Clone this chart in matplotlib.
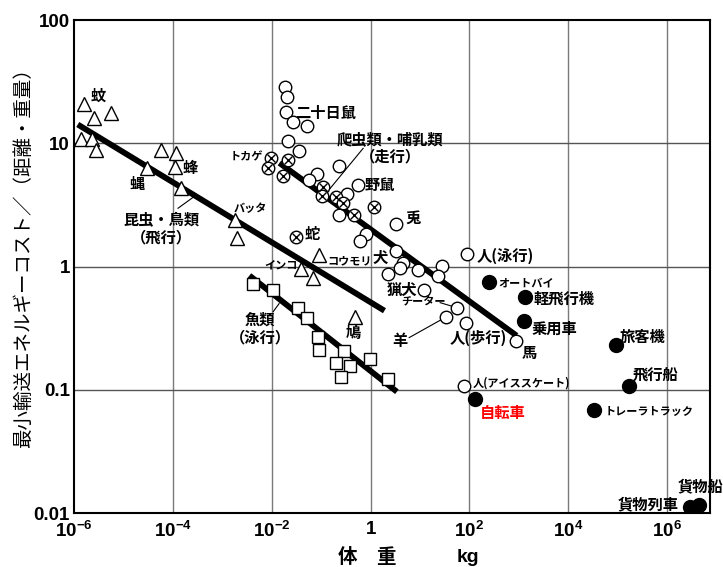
import numpy as np
import matplotlib
matplotlib.use("Agg")
import matplotlib.pyplot as plt

plt.rcParams['font.family'] = ['Noto Sans CJK JP', 'DejaVu Sans']
plt.rcParams['mathtext.fontset'] = 'custom'
plt.rcParams['mathtext.rm'] = 'Liberation Sans:bold'
plt.rcParams['mathtext.bf'] = 'Liberation Sans:bold'
plt.rcParams['mathtext.default'] = 'bf'

# 飛行（昆虫・鳥類）
fly_mass = [1.6e-6, 2.5e-6, 5.6e-6, 1.4e-6, 2.3e-6, 2.8e-6, 5.8e-5, 1.15e-4, 1.1e-4,
            3.0e-5, 1.45e-4, 1.8e-3, 2.0e-3, 0.091, 0.04, 0.069, 0.48]
fly_cost = [21, 16, 17.6, 10.8, 10.8, 8.9, 8.9, 8.3, 6.4,
            6.3, 4.3, 2.37, 1.7, 1.25, 0.95, 0.80, 0.39]

# 走行（哺乳類）
run_mass = [0.0187, 0.0202, 0.0195, 0.0267, 0.051, 0.0212, 0.0354, 0.231, 0.082, 0.058,
            0.331, 0.553, 0.231, 3.3, 0.81, 0.60, 3.24, 4.6, 3.97, 9.1,
            27.7, 23, 2.3, 11.8, 56, 33.9, 86, 885, 89, 76]
run_cost = [28.7, 23.8, 17.8, 14.9, 13.8, 10.4, 8.6, 6.5, 5.6, 5.0,
            3.9, 4.6, 2.63, 2.22, 1.84, 1.62, 1.33, 1.07, 0.97, 0.93,
            1.01, 0.83, 0.865, 0.64, 0.458, 0.392, 0.348, 0.25, 1.27, 0.108]

# 走行（爬虫類）
rept_mass = [9.7e-3, 0.0218, 8.6e-3, 0.0168, 0.111, 0.103, 0.201, 0.283, 0.472, 1.18, 0.031]
rept_cost = [7.65, 7.37, 6.3, 5.4, 4.4, 3.7, 3.66, 3.27, 2.63, 3.03, 1.73]

# 泳行（魚類）
swim_mass = [4.2e-3, 0.0105, 0.034, 0.052, 0.087, 0.091, 0.29, 0.97, 0.2, 0.38, 0.25, 2.24]
swim_cost = [0.72, 0.65, 0.46, 0.38, 0.27, 0.21, 0.205, 0.178, 0.164, 0.155, 0.128, 0.123]

# 乗り物
vehicle_names = ['オートバイ', '軽飛行機', '乗用車', '旅客機', '飛行船',
                 'トレーラトラック', '自転車', '貨物列車', '貨物船']
vehicle_mass = [244, 1350, 1245, 9.25e4, 1.66e5, 3.25e4, 127, 2.95e6, 4.35e6]
vehicle_cost = [0.755, 0.563, 0.359, 0.231, 0.108, 0.0687, 0.0845, 0.0112, 0.0116]

# 回帰線（両端）
fly_fit_mass, fly_fit_cost = [1.19e-6, 1.91], [14.2, 0.438]
run_fit_mass, run_fit_cost = [0.0143, 900], [6.92, 0.275]
swim_fit_mass, swim_fit_cost = [3.54e-3, 3.41], [0.845, 0.0964]

xticks = [1e-6, 1e-4, 1e-2, 1, 1e2, 1e4, 1e6]
xticklabels = ['$10^{-6}$', '$10^{-4}$', '$10^{-2}$', '1', '$10^{2}$', '$10^{4}$', '$10^{6}$']
yticks = [0.01, 0.1, 1, 10, 100]
yticklabels = ['0.01', '0.1', '1', '10', '100']

fig = plt.figure(figsize=(7.23, 5.67), dpi=100)
ax = fig.add_axes([0.1024, 0.0952, 0.8797, 0.8695])
ax.set_xscale('log')
ax.set_yscale('log')
ax.set_xlim(1e-6, 7.4e6)
ax.set_ylim(0.01, 100)

# グリッド
for gx in xticks[1:]:
    ax.axvline(gx, color='#7a7a7a', lw=1.0, zorder=0)
for gy in yticks[1:-1]:
    ax.axhline(gy, color='#555555', lw=1.0, zorder=0)

# 回帰線
for fm, fc in [(fly_fit_mass, fly_fit_cost), (run_fit_mass, run_fit_cost),
               (swim_fit_mass, swim_fit_cost)]:
    ax.plot(fm, fc, color='black', lw=4.2, solid_capstyle='butt', zorder=2)

ms = 9
ax.plot(fly_mass, fly_cost, ls='none', marker='^', ms=ms + 1, mfc='white', mec='black', mew=1.0, zorder=3)
ax.plot(run_mass, run_cost, ls='none', marker='o', ms=ms, mfc='white', mec='black', mew=1.0, zorder=3)
ax.plot(rept_mass, rept_cost, ls='none', marker='o', ms=ms, mfc='white', mec='black', mew=1.0, zorder=3)
ax.plot(rept_mass, rept_cost, ls='none', marker='x', ms=6, mec='black', mew=1.0, zorder=4)
ax.plot(swim_mass, swim_cost, ls='none', marker='s', ms=ms, mfc='white', mec='black', mew=1.0, zorder=3)
ax.plot(vehicle_mass, vehicle_cost, ls='none', marker='o', ms=ms + 1, mfc='black', mec='black', zorder=3)

# ラベル
big = dict(fontsize=11, fontweight='bold', va='center')
small = dict(fontsize=8, fontweight='bold', va='center')

ax.text(3.06e-6, 24.1, '蚊', ha='center', **big)
ax.text(2.2e-4, 6.27, '蜂', ha='center', **big)
ax.text(1.88e-5, 4.65, '蝿', ha='center', **big)
ax.text(5.8e-5, 2.04, '昆虫・鳥類\n（飛行）', ha='center', linespacing=1.15, **big)
ax.plot([1.27e-4, 2.56e-4], [2.97, 3.64], color='black', lw=0.8)
ax.text(3.66e-3, 2.97, 'バッタ', ha='center', **small)
ax.text(6.7e-3, 7.7, 'トカゲ', ha='right', **small)
ax.text(0.0298, 17.5, '二十日鼠', ha='left', **big)
ax.text(2.5, 9.2, '爬虫類・哺乳類\n（走行）', ha='center', linespacing=1.15, **big)
ax.plot([0.708, 0.152], [9.1, 4.3], color='black', lw=0.8)
ax.text(0.74, 4.56, '野鼠', ha='left', **big)
ax.text(7.3, 2.5, '兎', ha='center', **big)
ax.text(0.0453, 1.82, '蛇', ha='left', **big)
ax.text(0.132, 1.10, 'コウモリ', ha='left', **small)
ax.text(0.033, 1.02, 'インコ', ha='right', **small)
ax.text(1.56, 1.18, '犬', ha='center', **big)
ax.text(4.37, 0.65, '猟犬', ha='center', **big)
ax.text(11.6, 0.519, 'チーター', ha='center', **small)
ax.plot([25.6, 47], [0.509, 0.473], color='black', lw=0.8)
ax.text(3.97, 0.25, '羊', ha='center', **big)
ax.plot([6.04, 29.5], [0.265, 0.378], color='black', lw=0.8)
ax.text(151, 0.265, '人(歩行)', ha='center', **big)
ax.text(1625, 0.2, '馬', ha='center', **big)
ax.text(137, 1.23, '人(泳行)', ha='left', **big)
ax.text(119, 0.114, '人(アイススケート)', ha='left', fontsize=8, fontweight='bold', va='center')
ax.text(5.8e-3, 0.313, '魚類\n（泳行）', ha='center', linespacing=1.15, **big)
ax.plot([0.0107, 0.0141], [0.43, 0.5], color='black', lw=0.8)
ax.text(0.445, 0.29, '鳩', ha='center', **big)

# 乗り物ラベル
veh_text = {
    'オートバイ': (383, 0.741, 'left', small),
    '軽飛行機': (1955, 0.55, 'left', big),
    '乗用車': (1780, 0.313, 'left', big),
    '旅客機': (1.08e5, 0.27, 'left', big),
    '飛行船': (1.98e5, 0.13, 'left', big),
    'トレーラトラック': (5.36e4, 0.0662, 'left', small),
    '自転車': (166, 0.065, 'left', big),
    '貨物列車': (1.69e6, 0.0118, 'right', big),
    '貨物船': (1.61e6, 0.0166, 'left', big),
}
for name in vehicle_names:
    tx, ty, ha, st = veh_text[name]
    color = 'red' if name == '自転車' else 'black'
    ax.text(tx, ty, name, ha=ha, color=color, clip_on=False, **st)

# 軸
ax.set_xticks(xticks)
ax.set_xticklabels(xticklabels)
ax.set_yticks(yticks)
ax.set_yticklabels(yticklabels)
ax.minorticks_off()
ax.tick_params(axis='y', length=0, pad=3)
ax.tick_params(axis='x', length=0, pad=6)
for lab in ax.get_xticklabels() + ax.get_yticklabels():
    lab.set_fontfamily(['Liberation Sans', 'DejaVu Sans'])
    lab.set_fontweight('bold')
    lab.set_fontsize(13.5)
for sp in ax.spines.values():
    sp.set_linewidth(1.5)

fig.text(0.032, 0.554, '最小輸送エネルギーコスト／（距離・重量）', rotation=90,
         ha='center', va='center', fontsize=14)
fig.text(0.508, 0.016, '体　重', ha='center', va='center', fontsize=14, fontweight='bold')
fig.text(0.647, 0.016, 'kg', ha='center', va='center', fontsize=14, fontweight='bold',
         family=['Liberation Sans', 'DejaVu Sans'])

fig.savefig('out.png', dpi=100)
